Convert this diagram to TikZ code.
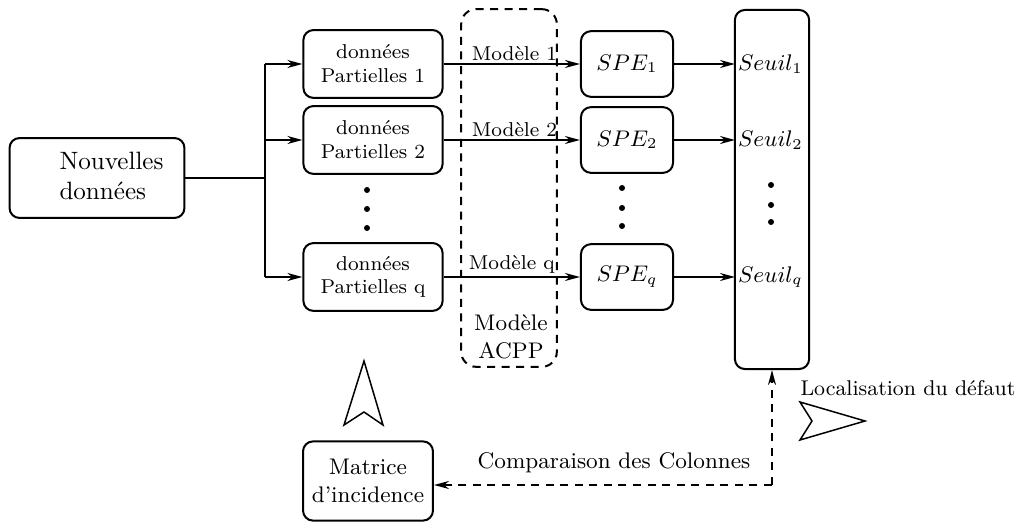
\documentclass[tikz,border=0pt]{standalone}
\usepackage{tikz}
\usetikzlibrary{arrows.meta}

\begin{document}
\begin{tikzpicture}[x=0.014cm, y=-0.014cm,
    >={Stealth[length=6pt, width=3.2pt]},
    box/.style={draw, rounded corners=4pt, line width=0.8pt, align=center},
    partbox/.style={box, minimum width=1.95cm, minimum height=0.95cm,
                    font=\footnotesize},
    spebox/.style={box, minimum width=1.29cm, minimum height=0.92cm,
                   font=\small},
    dashline/.style={dash pattern=on 3.2pt off 2.6pt},
    link/.style={->, semithick},
    seuillbl/.style={anchor=west, inner sep=1pt, font=\small},
    modlbl/.style={above, inner sep=1pt, font=\footnotesize}]

  \useasboundingbox (0,0) rectangle (1019,522);

  % entree
  \node[box, minimum width=2.45cm, minimum height=1.12cm] (nouv) at (97,178) {};
  \node[anchor=west, align=left, inner sep=0pt] (nouvtxt) at (59,176)
       {Nouvelles\\donn\'ees};
  \coordinate (split) at (265,178);

  % donnees partielles
  \node[partbox] (part1) at (373,64)  {donn\'ees\\ Partielles 1};
  \node[partbox] (part2) at (373,140) {donn\'ees\\ Partielles 2};
  \node[partbox] (partq) at (373,277) {donn\'ees\\ Partielles q};

  % modele ACPP
  \node[draw, dashline, rounded corners=6pt, line width=0.8pt,
        minimum width=1.34cm, minimum height=5.01cm] (acpp) at (509,188) {};
  \node[align=center, font=\small] (acpptxt) at (511,337) {Mod\`ele\\ ACPP};

  % SPE
  \node[spebox] (spe1) at (627,64)  {$SPE_1$};
  \node[spebox] (spe2) at (627,140) {$SPE_2$};
  \node[spebox] (speq) at (627,277) {$SPE_q$};

  % seuils
  \node[box, minimum width=1.04cm, minimum height=5.03cm] (seuil) at (772,189.5) {};
  \node[seuillbl] (seuil1) at (735,64)  {$Seuil_1$};
  \node[seuillbl] (seuil2) at (735,140) {$Seuil_2$};
  \node[seuillbl] (seuilq) at (735,277) {$Seuil_q$};

  % matrice
  \node[box, minimum width=1.82cm, minimum height=1.11cm, font=\small]
       (matrice) at (368,481) {Matrice\\ d'incidence};

  % liaisons
  \draw[semithick] (nouv.east) -- (split);
  \draw[semithick] (split |- part1) -- (split |- partq);
  \draw[link] (split |- part1) -- (part1.west);
  \draw[link] (split |- part2) -- (part2.west);
  \draw[link] (split |- partq) -- (partq.west);

  \draw[link] (part1.east) -- node[modlbl, pos=0.52] {Mod\`ele 1} (spe1.west);
  \draw[link] (part2.east) -- node[modlbl, pos=0.52] {Mod\`ele 2} (spe2.west);
  \draw[link] (partq.east) -- node[modlbl, pos=0.5] {Mod\`ele q} (speq.west);

  \draw[link] (spe1.east) -- (seuil1.west);
  \draw[link] (spe2.east) -- (seuil2.west);
  \draw[link] (speq.east) -- (seuilq.west);

  % points de suspension
  \foreach \yy in {190,209,228} \fill (367,\yy) circle (1.2pt);
  \foreach \yy in {188,208,226} \fill (622,\yy) circle (1.2pt);
  \foreach \yy in {185,205,222} \fill (771,\yy) circle (1.2pt);

  % retour
  \coordinate (corner) at (772,485);
  \draw[link, dashline] (corner) -- (seuil.south);
  \draw[link, dashline] (corner) -- (corner -| matrice.east);
  \node[font=\small] (compar) at (614,463) {Comparaison des Colonnes};
  \node[anchor=west, font=\fontsize{8.5pt}{10pt}\selectfont, inner sep=0pt]
       (local) at (800,388) {Localisation du d\'efaut};

  % grandes fleches
  \draw[semithick] (364,361) -- (383,425) -- (364,412) -- (344,425) -- cycle;
  \draw[semithick] (865,421) -- (800,440) -- (812,421) -- (800,402) -- cycle;

\end{tikzpicture}
\end{document}
